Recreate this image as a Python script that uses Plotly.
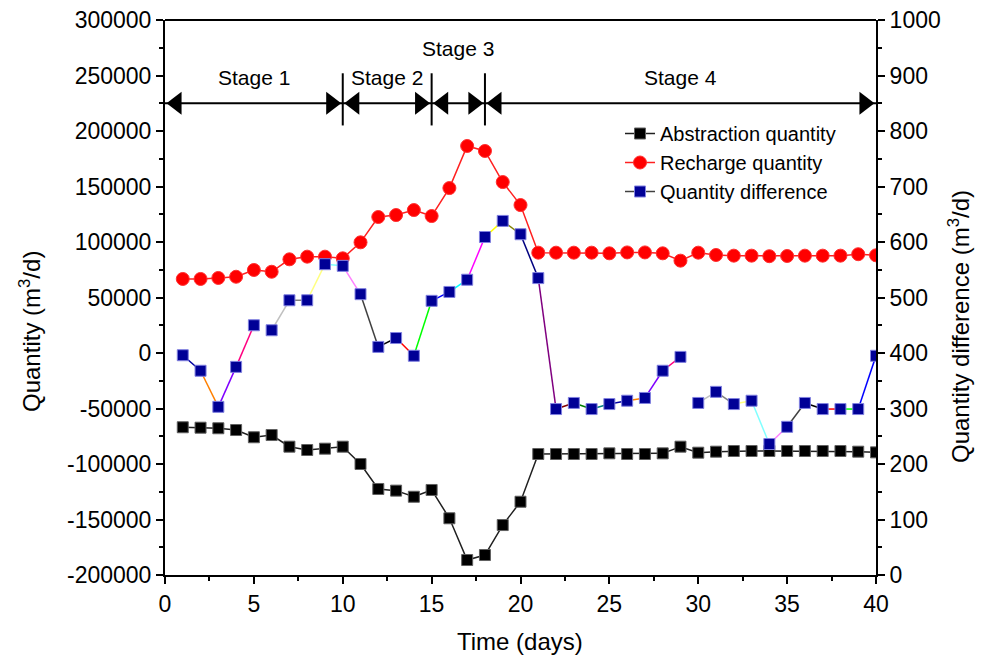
import plotly.graph_objects as go

# ---------------- data ----------------
days = list(range(1, 41))

abstraction = [-66900, -67300, -67800, -69400, -75900, -73900, -84400, -87400, -86200, -84400,
               -100000, -122500, -124000, -129500, -123400, -148900, -186500, -182000, -155000, -134000,
               -91000, -91000, -91000, -91000, -90400, -91000, -91000, -90400, -84400, -89800,
               -88900, -88300, -88300, -88300, -88300, -88300, -88300, -88300, -88900, -89500]

recharge = [66700, 66700, 67600, 68700, 74800, 73200, 84400, 86800, 86800, 85300,
            99700, 122500, 124300, 128800, 123400, 148600, 186500, 182000, 154000, 133300,
            90400, 90400, 90400, 90400, 89800, 90600, 90600, 89800, 83200, 90400,
            88300, 87700, 87700, 87200, 87400, 87700, 87700, 87700, 89000, 88000]

difference = [396, 368, 303, 375, 450, 441, 495, 495, 560, 557,
              506, 411, 427, 395, 494, 510, 532, 609, 638, 614,
              535, 299, 310, 299, 308, 314, 319, 368, 393, 310,
              330, 308, 314, 236, 267, 310, 299, 299, 299, 395]

stage_bounds = [0, 10, 15, 18, 40]
stage_names = ["Stage 1", "Stage 2", "Stage 3", "Stage 4"]
stage_label_y = [248000, 248000, 274000, 248000]
stage_arrow_y = 225000
stage_tick_y = [205000, 252000]

x_ticks = [0, 5, 10, 15, 20, 25, 30, 35, 40]
x_tick_labels = [str(v) for v in x_ticks]
y_ticks = [-200000, -150000, -100000, -50000, 0, 50000, 100000, 150000, 200000, 250000, 300000]
y_tick_labels = [str(v) for v in y_ticks]
y2_ticks = [0, 100, 200, 300, 400, 500, 600, 700, 800, 900, 1000]
y2_tick_labels = [str(v) for v in y2_ticks]

# Origin-style incrementing colour list (used for the difference segments)
origin_colors = ["#000000", "#FF0000", "#00FF00", "#0000FF", "#00FFFF", "#FF00FF", "#FFFF00",
                 "#808000", "#000080", "#800080", "#800000", "#008000", "#008080", "#0000A0",
                 "#FF8000", "#8000FF", "#FF0080", "#FFFFFF", "#C0C0C0", "#808080", "#FFFF80",
                 "#80FFFF", "#FF80FF", "#404040"]
color_offset = 13

FONT = "Arial, 'Liberation Sans', sans-serif"

# page body has an 8px default margin, so the figure is drawn 8px in from the corner
PAGE_OFF = 8
W, H = 988 - PAGE_OFF, 659 - PAGE_OFF
PLOT_L, PLOT_R, PLOT_T, PLOT_B = 165, 876, 20, 575   # wanted plot-area edges in window pixels
ML, MT = PLOT_L - PAGE_OFF, PLOT_T - PAGE_OFF
MR, MB = (W + PAGE_OFF) - PLOT_R, (H + PAGE_OFF) - PLOT_B
PLOT_W, PLOT_H = PLOT_R - PLOT_L, PLOT_B - PLOT_T
X_RANGE = [0, 40]
ARROW_SIZE = 20
# distance from triangle marker centre to its tip, converted to data units
tip_off = (ARROW_SIZE / 2) * 2 / 3 ** 0.5 * (X_RANGE[1] - X_RANGE[0]) / PLOT_W


def px_x(px):
    return (px - PLOT_L) / PLOT_W


def px_y(py):
    return (PLOT_B - py) / PLOT_H


fig = go.Figure()

fig.add_trace(go.Scatter(
    x=days, y=abstraction, name="Abstraction quantity", mode="lines+markers",
    line=dict(color="#202020", width=1.5),
    marker=dict(symbol="square", size=11, color="black", line=dict(color="#606060", width=1)),
))
fig.add_trace(go.Scatter(
    x=days, y=recharge, name="Recharge quantity", mode="lines+markers",
    line=dict(color="#FF2020", width=1.5),
    marker=dict(symbol="circle", size=13, color="#FF0000", line=dict(color="#FF3030", width=1)),
))

# multicoloured segments of the difference curve
for i in range(len(days) - 1):
    fig.add_trace(go.Scatter(
        x=days[i:i + 2], y=difference[i:i + 2], mode="lines", yaxis="y2",
        line=dict(color=origin_colors[(color_offset + i) % len(origin_colors)], width=1.5),
        showlegend=False, hoverinfo="skip",
    ))
fig.add_trace(go.Scatter(
    x=days, y=difference, mode="markers", yaxis="y2", showlegend=False,
    marker=dict(symbol="square", size=11, color="#000096", line=dict(color="#8080E0", width=1)),
))
# legend entry for difference
fig.add_trace(go.Scatter(
    x=[None], y=[None], name="Quantity difference", mode="lines+markers", yaxis="y2",
    line=dict(color="#404040", width=1.5),
    marker=dict(symbol="square", size=11, color="#000096", line=dict(color="#8080E0", width=1)),
))

# stage arrows: double-headed line for each stage
for k in range(len(stage_names)):
    x0, x1 = stage_bounds[k], stage_bounds[k + 1]
    fig.add_trace(go.Scatter(
        x=[x0, x1], y=[stage_arrow_y, stage_arrow_y], mode="lines",
        line=dict(color="black", width=2), showlegend=False, hoverinfo="skip",
    ))
    fig.add_trace(go.Scatter(
        x=[x0 + tip_off, x1 - tip_off], y=[stage_arrow_y, stage_arrow_y], mode="markers",
        marker=dict(symbol=["triangle-left", "triangle-right"], size=ARROW_SIZE, color="black",
                    line=dict(width=0)),
        showlegend=False, hoverinfo="skip",
    ))

annotations = []
shapes = []
for k in range(len(stage_names)):
    x0, x1 = stage_bounds[k], stage_bounds[k + 1]
    annotations.append(dict(
        x=(x0 + x1) / 2, y=stage_label_y[k], xref="x", yref="y", text=stage_names[k],
        showarrow=False, font=dict(family=FONT, size=21, color="black"),
    ))
for b in stage_bounds[1:-1]:
    shapes.append(dict(type="line", xref="x", yref="y", x0=b, x1=b,
                       y0=stage_tick_y[0], y1=stage_tick_y[1], line=dict(color="black", width=2)))
# top frame line
shapes.append(dict(type="line", xref="paper", yref="paper", x0=0, x1=1, y0=1, y1=1,
                   line=dict(color="black", width=2)))

# axis titles
annotations.append(dict(text="Time (days)", xref="paper", yref="paper", x=px_x(520), y=px_y(641),
                        showarrow=False, font=dict(family=FONT, size=24), xanchor="center", yanchor="middle"))
annotations.append(dict(text="Quantity (m<sup>3</sup>/d)", xref="paper", yref="paper",
                        x=px_x(30), y=px_y(332), textangle=-90,
                        showarrow=False, font=dict(family=FONT, size=24), xanchor="center", yanchor="middle"))
annotations.append(dict(text="Quantity difference (m<sup>3</sup>/d)", xref="paper", yref="paper",
                        x=px_x(959), y=px_y(327), textangle=-90,
                        showarrow=False, font=dict(family=FONT, size=24), xanchor="center", yanchor="middle"))

fig.update_layout(
    width=W, height=H,
    margin=dict(l=ML, r=MR, t=MT, b=MB, autoexpand=False),
    paper_bgcolor="white", plot_bgcolor="white",
    font=dict(family=FONT, size=23, color="black"),
    showlegend=True,
    legend=dict(x=px_x(620), y=px_y(114), xanchor="left", yanchor="top", bgcolor="rgba(0,0,0,0)",
                font=dict(family=FONT, size=20), tracegroupgap=0),
    xaxis=dict(range=X_RANGE, tickvals=x_ticks, ticktext=x_tick_labels, automargin=False,
               ticklabeloverflow="allow",
               showline=True, linecolor="black", linewidth=2,
               ticks="outside", ticklen=7, tickwidth=2, tickcolor="black",
               minor=dict(dtick=2.5, ticks="outside", ticklen=4, tickwidth=2, tickcolor="black"),
               showgrid=False, zeroline=False),
    yaxis=dict(range=[-200000, 300000], tickvals=y_ticks, ticktext=y_tick_labels, automargin=False,
               ticklabeloverflow="allow",
               showline=True, linecolor="black", linewidth=2,
               ticks="outside", ticklen=7, tickwidth=2, tickcolor="black",
               minor=dict(dtick=25000, ticks="outside", ticklen=4, tickwidth=2, tickcolor="black"),
               showgrid=False, zeroline=False),
    yaxis2=dict(range=[0, 1000], tickvals=y2_ticks, ticktext=y2_tick_labels, overlaying="y", side="right",
                automargin=False, ticklabeloverflow="allow",
                showline=True, linecolor="black", linewidth=2,
                ticks="outside", ticklen=7, tickwidth=2, tickcolor="black",
                minor=dict(dtick=50, ticks="outside", ticklen=4, tickwidth=2, tickcolor="black"),
                showgrid=False, zeroline=False),
    annotations=annotations,
    shapes=shapes,
)

fig.write_html("out.html")
